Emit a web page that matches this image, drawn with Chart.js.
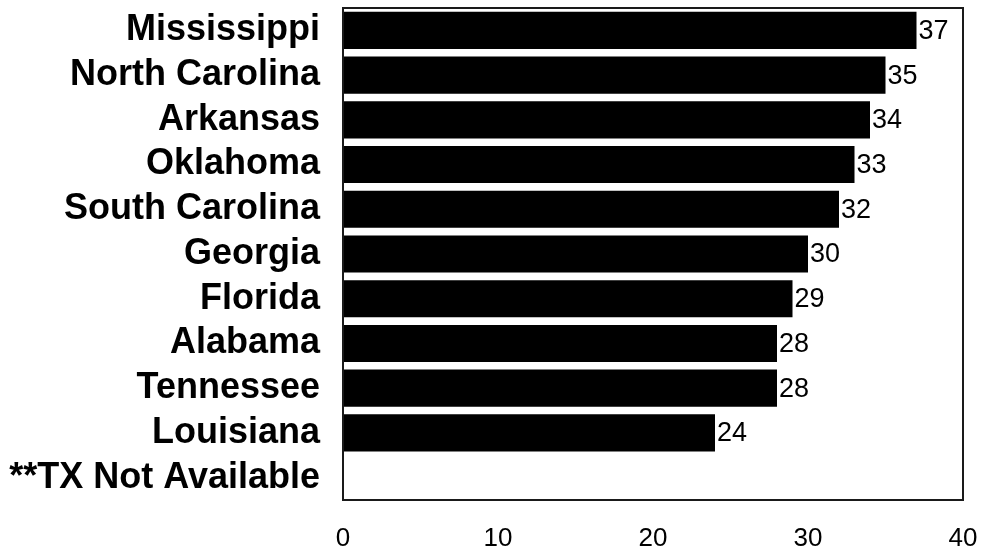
<!DOCTYPE html>
<html>
<head>
<meta charset="utf-8">
<script src="https://cdn.jsdelivr.net/npm/chart.js@4.4.1/dist/chart.umd.min.js"></script>
<style>
  html, body { margin: 0; padding: 0; background: #fff; }
  #wrap { width: 982px; height: 550px; }
</style>
</head>
<body>
<div id="wrap"><canvas id="canvas" width="982" height="550"></canvas></div>
<script>
const states = ["Mississippi", "North Carolina", "Arkansas", "Oklahoma", "South Carolina",
                "Georgia", "Florida", "Alabama", "Tennessee", "Louisiana", "**TX Not Available"];
const values = [37, 35, 34, 33, 32, 30, 29, 28, 28, 24, null];
const xTicks = [0, 10, 20, 30, 40];

const fontFamily = "'Liberation Sans', Arial, sans-serif";

// border round the plot area + value labels at bar ends
const boxAndLabels = {
    id: "boxAndLabels",
    afterDatasetsDraw(chart) {
        const ctx = chart.ctx;
        const a = chart.chartArea;
        ctx.save();
        ctx.strokeStyle = "#1a1a1a";
        ctx.lineWidth = 2;
        ctx.strokeRect(a.left, a.top, a.right - a.left, a.bottom - a.top);

        ctx.fillStyle = "#000";
        ctx.font = "27px " + fontFamily;
        ctx.textAlign = "left";
        ctx.textBaseline = "middle";
        const meta = chart.getDatasetMeta(0);
        meta.data.forEach((bar, i) => {
            if (values[i] == null) return;
            ctx.fillText(String(values[i]), bar.x + 2, bar.y + 1);
        });
        ctx.restore();
    }
};

const ctx = document.getElementById("canvas").getContext("2d");
new Chart(ctx, {
    type: "bar",
    data: {
        labels: states,
        datasets: [{
            data: values,
            backgroundColor: "#000",
            borderWidth: 0,
            barPercentage: 0.83,
            categoryPercentage: 1
        }]
    },
    options: {
        indexAxis: "y",
        responsive: false,
        animation: false,
        layout: { padding: { top: 8, right: 19, left: 0, bottom: 0 } },
        plugins: {
            legend: { display: false },
            tooltip: { enabled: false }
        },
        scales: {
            x: {
                min: 0,
                max: 40,
                afterBuildTicks: (axis) => { axis.ticks = xTicks.map(v => ({ value: v })); },
                afterFit: (axis) => {
                    axis.height = 50;
                    axis.paddingLeft = 0;
                    axis.paddingRight = 0;
                },
                grid: { display: false, drawTicks: false },
                border: { display: false },
                ticks: {
                    color: "#000",
                    font: { family: fontFamily, size: 26 },
                    padding: 23,
                    maxRotation: 0
                }
            },
            y: {
                afterFit: (axis) => {
                    axis.width = 343;
                    axis.paddingTop = 0;
                    axis.paddingBottom = 0;
                },
                grid: { display: false, drawTicks: false },
                border: { display: false },
                ticks: {
                    color: "#000",
                    font: { family: fontFamily, size: 36, weight: "bold" },
                    padding: 23,
                    autoSkip: false
                }
            }
        }
    },
    plugins: [boxAndLabels]
});
</script>
</body>
</html>
